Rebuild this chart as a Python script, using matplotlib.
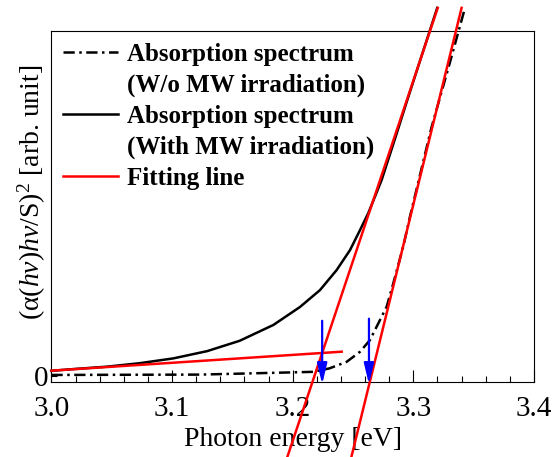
import matplotlib
matplotlib.use("Agg")
import matplotlib.pyplot as plt
from matplotlib.lines import Line2D
import numpy as np

plt.rcParams['font.family'] = ['Liberation Serif', 'DejaVu Serif']
plt.rcParams['mathtext.fontset'] = 'custom'
plt.rcParams['mathtext.rm'] = 'Liberation Serif'
plt.rcParams['mathtext.it'] = 'Liberation Serif:italic'
plt.rcParams['mathtext.bf'] = 'Liberation Serif:bold'

# ---- data (photon energy [eV], (alpha h nu / S)^2 [arb. unit]) ----
E_with = [3.000, 3.018, 3.046, 3.073, 3.101, 3.129, 3.156, 3.184, 3.206,
          3.2226, 3.2364, 3.2475, 3.2558, 3.2626, 3.2682, 3.2737, 3.285,
          3.295, 3.3075, 3.3198]
v_with = [0.015, 0.020, 0.027, 0.037, 0.051, 0.072, 0.102, 0.148, 0.200,
          0.249, 0.307, 0.365, 0.423, 0.472, 0.520, 0.568, 0.690,
          0.800, 0.935, 1.067]

E_wo = [3.000, 3.123, 3.189, 3.217, 3.2304, 3.2447, 3.2557, 3.264, 3.2723,
        3.2779, 3.2834, 3.2916, 3.2972, 3.315, 3.330, 3.3428]
v_wo = [0.003, 0.004, 0.0096, 0.012, 0.022, 0.041, 0.070, 0.104, 0.162,
        0.201, 0.269, 0.375, 0.462, 0.720, 0.905, 1.067]

# fitting lines: (E_start, E_end), (v_start, v_end)
fit_base_E = [3.000, 3.2406]
fit_base_v = [0.0154, 0.0704]
fit_with_E = [3.1955, 3.3202]
fit_with_v = [-0.235, 1.067]
fit_wo_E = [3.2486, 3.3400]
fit_wo_v = [-0.235, 1.067]

# band-gap arrows
arrow_E = [3.2244, 3.2632]
arrow_top = [0.160, 0.166]
arrow_tip = -0.024

xticks = [3.0, 3.1, 3.2, 3.3, 3.4]
xticklabels = ["3.0", "3.1", "3.2", "3.3", "3.4"]

DASHDOT = (0, (4.5, 1.8, 1.0, 1.8))

fig = plt.figure(figsize=(5.53, 4.57), dpi=100)
ax = fig.add_axes([0.0931, 0.1652, 0.8725, 0.7670])

ax.plot(E_wo, v_wo, color='black', lw=1.8, linestyle=DASHDOT,
        clip_on=False, zorder=3)
ax.plot(E_with, v_with, color='black', lw=1.8, clip_on=False, zorder=3)
ax.plot(fit_base_E, fit_base_v, color='red', lw=1.8, clip_on=False, zorder=4)
ax.plot(fit_with_E, fit_with_v, color='red', lw=1.8, clip_on=False, zorder=4)
ax.plot(fit_wo_E, fit_wo_v, color='red', lw=1.8, clip_on=False, zorder=4)

for e, t in zip(arrow_E, arrow_top):
    ax.annotate('', xy=(e, arrow_tip), xytext=(e, t),
                arrowprops=dict(arrowstyle='-|>,head_length=1.25,head_width=0.3',
                                color='blue', lw=1.6, mutation_scale=10,
                                shrinkA=0, shrinkB=0),
                annotation_clip=False, zorder=5)

ax.set_xlim(3.0, 3.4)
ax.set_ylim(-0.016, 1.0)
ax.set_xticks(xticks)
ax.set_xticklabels(xticklabels)
ax.set_xticks(np.arange(3.0, 3.4001, 0.02), minor=True)
ax.set_yticks([0])
ax.set_yticklabels(["0"])
ax.tick_params(axis='x', which='major', direction='in', length=8.5, width=0.8,
               labelsize=21, pad=10.5, top=False)
ax.tick_params(axis='x', which='minor', direction='in', length=4, width=0.8, top=False)
ax.tick_params(axis='y', which='major', direction='in', length=4.5, width=0.8,
               labelsize=21, pad=2, right=False)
for s in ax.spines.values():
    s.set_linewidth(0.8)

ax.set_xlabel("Photon energy [eV]", fontsize=20, labelpad=3.6)
ax.set_ylabel(r"$(\mathrm{\alpha}(h\nu)h\nu/\mathrm{S})^2$ [arb. unit]", fontsize=20)
ax.yaxis.set_label_coords(-0.007, 0.54)

handles = [Line2D([], [], color='black', lw=1.8, linestyle=DASHDOT),
           Line2D([], [], color='none'),
           Line2D([], [], color='black', lw=1.8),
           Line2D([], [], color='none'),
           Line2D([], [], color='red', lw=1.8)]
labels = ["Absorption spectrum", "(W/o MW irradiation)", "Absorption spectrum",
          "(With MW irradiation)", "Fitting line"]
leg = ax.legend(handles, labels, loc='upper left', frameon=False,
                prop={'weight': 'bold', 'size': 18}, handlelength=2.2,
                handletextpad=0.35, labelspacing=0.31, borderaxespad=0.28,
                borderpad=0.2)

fig.savefig("out.png", dpi=100)
